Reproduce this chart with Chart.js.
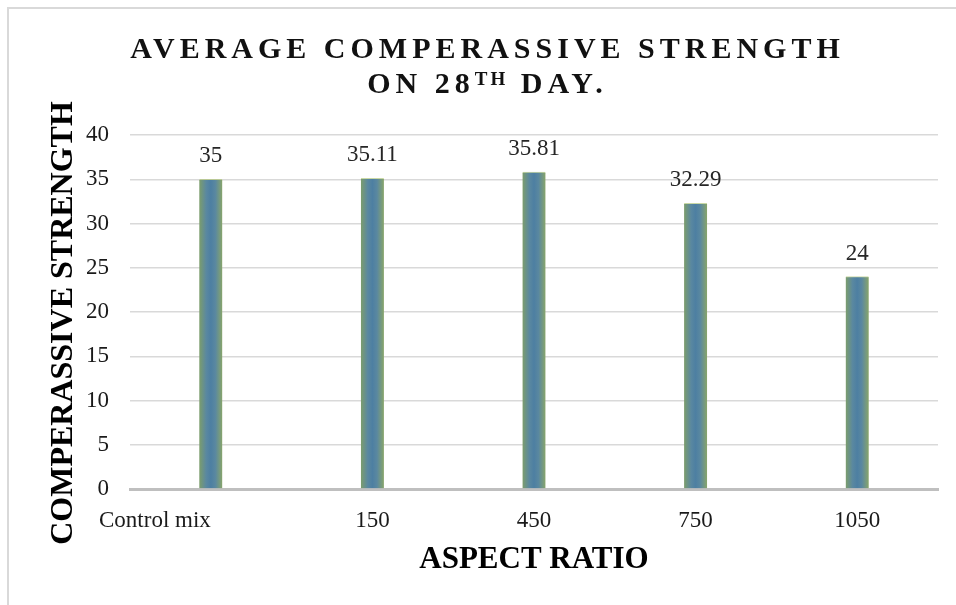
<!DOCTYPE html>
<html>
<head>
<meta charset="utf-8">
<script src="https://cdn.jsdelivr.net/npm/chart.js@4.4.0/dist/chart.umd.min.js"></script>
<style>
  body { margin: 0; background: #fff; }
  canvas { display: block; }
</style>
</head>
<body>
<canvas id="myChart" width="956" height="605"></canvas>
<script>
// datos de la grafica
const categorias = ["Control mix", "150", "450", "750", "1050"];
const resistencia = [35, 35.11, 35.81, 32.29, 24];
const ticksY = [0, 5, 10, 15, 20, 25, 30, 35, 40];

const fuente = '"Liberation Serif", "Times New Roman", serif';

// degradado verde-azul-verde de cada barra
const colorBarra = (c) => {
  const chart = c.chart;
  if (!chart.chartArea) return '#4f7fa0';
  const x = chart.scales.x.getPixelForValue(c.dataIndex);
  const g = chart.ctx.createLinearGradient(x - 11.5, 0, x + 11.5, 0);
  g.addColorStop(0, '#7c9d6c');
  g.addColorStop(0.3, '#5a88a0');
  g.addColorStop(0.5, '#4d7fa2');
  g.addColorStop(0.7, '#5a88a0');
  g.addColorStop(1, '#88a56a');
  return g;
};

// textos: marco, titulo, etiquetas del eje x, titulos de ejes y valores
const textos = {
  id: 'textos',
  beforeDraw(chart) {
    const ctx = chart.ctx;
    ctx.save();
    ctx.fillStyle = '#fff';
    ctx.fillRect(0, 0, chart.width, chart.height);
    ctx.strokeStyle = '#d9d9d9';
    ctx.lineWidth = 2;
    ctx.strokeRect(8, 8, 1000, 1000);
    ctx.restore();
  },
  afterDraw(chart) {
    const ctx = chart.ctx;
    const x = chart.scales.x;
    const y = chart.scales.y;
    const area = chart.chartArea;
    ctx.save();
    ctx.fillStyle = '#111';
    ctx.textBaseline = 'alphabetic';

    // titulo con espaciado entre letras
    const cx = 485;
    ctx.textAlign = 'left';
    ctx.font = 'bold 30px ' + fuente;
    ctx.letterSpacing = '5px';
    const linea1 = 'AVERAGE COMPERASSIVE STRENGTH';
    const w1 = ctx.measureText(linea1).width - 5;
    ctx.fillText(linea1, cx - w1 / 2, 58);

    const partes = [
      { t: 'ON 28', f: 'bold 30px ' + fuente, s: 5, dy: 0 },
      { t: 'TH', f: 'bold 19px ' + fuente, s: 3, dy: -8 },
      { t: ' DAY.', f: 'bold 30px ' + fuente, s: 5, dy: 0 }
    ];
    let total = 0;
    partes.forEach(p => {
      ctx.font = p.f;
      ctx.letterSpacing = p.s + 'px';
      p.w = ctx.measureText(p.t).width;
      total += p.w;
    });
    total -= 5;
    let px = cx - total / 2;
    partes.forEach(p => {
      ctx.font = p.f;
      ctx.letterSpacing = p.s + 'px';
      ctx.fillText(p.t, px, 93 + p.dy);
      px += p.w;
    });
    ctx.letterSpacing = '0px';

    // etiquetas de categoria
    ctx.font = '23px ' + fuente;
    ctx.fillStyle = '#1a1a1a';
    categorias.forEach((cat, i) => {
      if (i === 0) {
        ctx.textAlign = 'left';
        ctx.fillText(cat, area.left - 31, 527);
      } else {
        ctx.textAlign = 'center';
        ctx.fillText(cat, x.getPixelForValue(i), 527);
      }
    });

    // valores encima de las barras
    ctx.textAlign = 'center';
    ctx.fillStyle = '#262626';
    resistencia.forEach((v, i) => {
      ctx.fillText(String(v), x.getPixelForValue(i), y.getPixelForValue(v) - 17);
    });

    // titulos de los ejes
    ctx.fillStyle = '#000';
    ctx.font = 'bold 31px ' + fuente;
    ctx.fillText('ASPECT RATIO', (area.left + area.right) / 2, 568);

    ctx.translate(72, 323);
    ctx.rotate(-Math.PI / 2);
    ctx.font = 'bold 32px ' + fuente;
    ctx.fillText('COMPERASSIVE STRENGTH', 0, 0);
    ctx.restore();
  }
};

const grafica = new Chart(document.getElementById('myChart'), {
  type: 'bar',
  data: {
    labels: categorias,
    datasets: [{
      data: resistencia,
      backgroundColor: colorBarra,
      borderColor: 'rgba(165, 190, 105, 0.6)',
      borderWidth: { top: 1, left: 0, right: 0, bottom: 0 },
      barThickness: 23
    }]
  },
  options: {
    responsive: false,
    animation: false,
    devicePixelRatio: 1,
    layout: { padding: { left: 70, right: 18, top: 135, bottom: 116 } },
    plugins: {
      legend: { display: false },
      title: { display: false },
      tooltip: { enabled: false }
    },
    scales: {
      x: {
        afterFit: (s) => { s.height = 0; },
        grid: { display: false, drawTicks: false },
        border: { display: true, color: '#bfbfbf', width: 3 },
        ticks: { display: false }
      },
      y: {
        min: 0,
        max: 40,
        afterFit: (s) => { s.width = 60; },
        afterBuildTicks: (s) => { s.ticks = ticksY.map(v => ({ value: v })); },
        grid: {
          color: (c) => c.tick && c.tick.value === 0 ? 'rgba(0,0,0,0)' : '#d9d9d9',
          lineWidth: 1.5,
          drawTicks: false
        },
        border: { display: false },
        ticks: {
          padding: 21,
          color: '#1a1a1a',
          font: { family: fuente, size: 23 }
        }
      }
    }
  },
  plugins: [textos]
});
</script>
</body>
</html>
